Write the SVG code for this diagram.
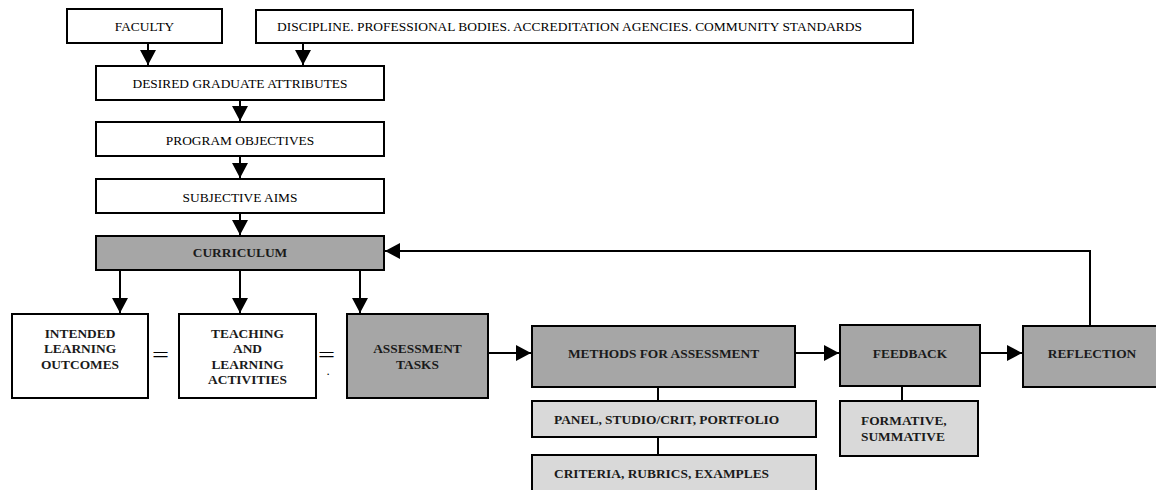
<svg xmlns="http://www.w3.org/2000/svg" width="1156" height="490" viewBox="0 0 1156 490">
<style>
  .box { fill: #ffffff; stroke: #000000; stroke-width: 2; }
  .dark { fill: #a6a6a6; stroke: #000000; stroke-width: 2; }
  .light { fill: #d9d9d9; stroke: #000000; stroke-width: 2; }
  .t { font-family: "Liberation Serif", "Times New Roman", serif; font-size: 13.4px; fill: #000000; }
  .b { font-family: "Liberation Serif", "Times New Roman", serif; font-size: 13.4px; font-weight: bold; fill: #1a1a1a; }
  .c { text-anchor: middle; }
  .ln { fill: none; stroke: #000000; stroke-width: 2; }
  .arr { fill: none; stroke: #000000; stroke-width: 2; marker-end: url(#ah); }
  .eq { font-family: "Liberation Serif", "Times New Roman", serif; font-size: 21px; fill: #000000; }
  .dot { font-family: "Liberation Serif", "Times New Roman", serif; font-size: 9px; font-weight: bold; fill: #000000; text-anchor: middle; }
</style>
<defs>
  <marker id="ah" markerUnits="userSpaceOnUse" markerWidth="16" markerHeight="16" refX="15" refY="8" orient="auto" viewBox="0 0 16 16">
    <path d="M0,0 L15,8 L0,16 z" fill="#000000"/>
  </marker>
</defs>
<rect width="1156" height="490" fill="#ffffff"/>

<g id="connectors">
  <line class="arr" x1="148" y1="43" x2="148" y2="65"/>
  <line class="arr" x1="303" y1="43" x2="303" y2="65"/>
  <line class="arr" x1="240" y1="100" x2="240" y2="121"/>
  <line class="arr" x1="240" y1="156" x2="240" y2="178"/>
  <line class="arr" x1="240" y1="213" x2="240" y2="235"/>
  <line class="arr" x1="120" y1="270" x2="120" y2="313"/>
  <line class="arr" x1="240" y1="270" x2="240" y2="313"/>
  <line class="arr" x1="360" y1="270" x2="360" y2="313"/>
  <line class="arr" x1="488" y1="353" x2="531" y2="353"/>
  <line class="arr" x1="795" y1="353" x2="839" y2="353"/>
  <line class="arr" x1="979" y1="353" x2="1022" y2="353"/>
  <polyline class="arr" points="1090,326 1090,251 385,251"/>
  <line class="ln" x1="658" y1="387" x2="658" y2="401"/>
  <line class="ln" x1="658" y1="437" x2="658" y2="455"/>
  <line class="ln" x1="902" y1="386" x2="902" y2="401"/>
</g>

<g id="faculty">
  <rect class="box" x="67" y="9" width="155" height="34"/>
  <text class="t c" x="144.5" y="31">FACULTY</text>
</g>
<g id="discipline">
  <rect class="box" x="256" y="10" width="657" height="33"/>
  <text class="t" x="277" y="31" textLength="585" lengthAdjust="spacingAndGlyphs">DISCIPLINE. PROFESSIONAL BODIES. ACCREDITATION AGENCIES. COMMUNITY STANDARDS</text>
</g>
<g id="graduate-attributes">
  <rect class="box" x="96" y="66" width="288" height="34"/>
  <text class="t c" x="240" y="88">DESIRED GRADUATE ATTRIBUTES</text>
</g>
<g id="program-objectives">
  <rect class="box" x="96" y="122" width="288" height="34"/>
  <text class="t c" x="240" y="145">PROGRAM OBJECTIVES</text>
</g>
<g id="subjective-aims">
  <rect class="box" x="96" y="179" width="288" height="34"/>
  <text class="t c" x="240" y="202">SUBJECTIVE AIMS</text>
</g>
<g id="curriculum">
  <rect class="dark" x="96" y="236" width="288" height="34"/>
  <text class="b c" x="240" y="257">CURRICULUM</text>
</g>
<g id="intended-learning-outcomes">
  <rect class="box" x="12" y="314" width="136" height="84"/>
  <text class="b c" x="80" y="338">INTENDED</text>
  <text class="b c" x="80" y="353">LEARNING</text>
  <text class="b c" x="80" y="369">OUTCOMES</text>
</g>
<g id="equals-1">
  <text class="eq" x="152" y="362" textLength="17" lengthAdjust="spacingAndGlyphs">=</text>
</g>
<g id="teaching-learning-activities">
  <rect class="box" x="179" y="314" width="137" height="84"/>
  <text class="b c" x="247.5" y="338">TEACHING</text>
  <text class="b c" x="247.5" y="353">AND</text>
  <text class="b c" x="247.5" y="369">LEARNING</text>
  <text class="b c" x="247.5" y="384">ACTIVITIES</text>
</g>
<g id="equals-2">
  <text class="eq" x="318" y="362" textLength="17" lengthAdjust="spacingAndGlyphs">=</text>
  <text class="dot" x="328" y="375">.</text>
</g>
<g id="assessment-tasks">
  <rect class="dark" x="347" y="314" width="141" height="84"/>
  <text class="b c" x="417.5" y="353">ASSESSMENT</text>
  <text class="b c" x="417.5" y="369">TASKS</text>
</g>
<g id="methods-for-assessment">
  <rect class="dark" x="532" y="326" width="263" height="61"/>
  <text class="b c" x="663.5" y="358">METHODS FOR ASSESSMENT</text>
</g>
<g id="panel-studio-portfolio">
  <rect class="light" x="532" y="401" width="284" height="36"/>
  <text class="b" x="554" y="424">PANEL, STUDIO/CRIT, PORTFOLIO</text>
</g>
<g id="criteria-rubrics-examples">
  <rect class="light" x="532" y="455" width="284" height="45"/>
  <text class="b" x="554" y="478">CRITERIA, RUBRICS, EXAMPLES</text>
</g>
<g id="feedback">
  <rect class="dark" x="840" y="325" width="140" height="61"/>
  <text class="b c" x="910" y="358">FEEDBACK</text>
</g>
<g id="formative-summative">
  <rect class="light" x="840" y="401" width="138" height="55"/>
  <text class="b" x="861" y="425">FORMATIVE,</text>
  <text class="b" x="861" y="441">SUMMATIVE</text>
</g>
<g id="reflection">
  <rect class="dark" x="1023" y="326" width="140" height="61"/>
  <text class="b c" x="1092" y="358">REFLECTION</text>
</g>
</svg>
